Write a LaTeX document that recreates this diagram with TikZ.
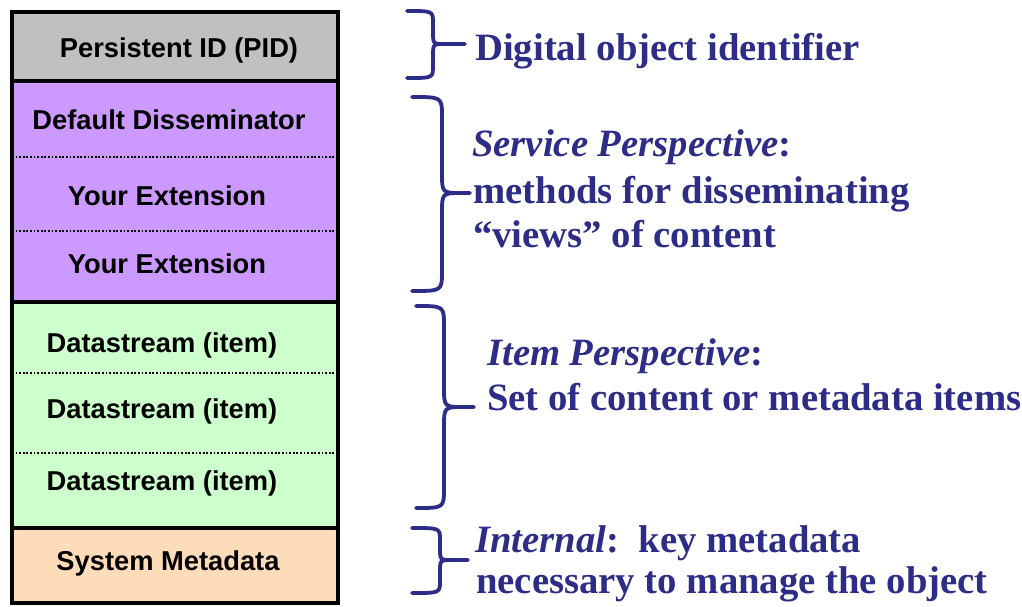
\documentclass[tikz,border=0pt]{standalone}
\usepackage{fontspec}
\setmainfont{Liberation Serif}
\newfontfamily\arialfont{Liberation Sans}
\definecolor{pidgray}{HTML}{C0C0C0}
\definecolor{svcpurple}{HTML}{CC99FF}
\definecolor{itemgreen}{HTML}{CCFFCC}
\definecolor{syspeach}{HTML}{FFDCB9}
\definecolor{navytext}{RGB}{45,45,135}
\tikzset{
  celltext/.style={anchor=base, inner sep=0pt, font=\arialfont\bfseries\fontsize{27.3}{30}\selectfont},
  desc/.style={anchor=base west, inner sep=0pt, text=navytext, font=\bfseries\fontsize{38.7}{44}\selectfont},
  bracestyle/.style={draw=navytext, line width=3.8pt, line cap=round, line join=round},
  solidsep/.style={line width=4pt},
  dotsep/.style={line width=2.6pt, dash pattern=on 1.8pt off 1.8pt},
}
% x0, xv, xt, ytop, ymid, ybot, r
\newcommand{\rightbrace}[7]{%
  \draw[bracestyle] (#1,#4) .. controls (#2,#4) and (#2,#4) .. (#2,#4+#7) -- (#2,#5-#7)
     .. controls (#2,#5) and (#2,#5) .. (#2+#7,#5) -- (#3,#5);
  \draw[bracestyle] (#2+#7,#5) .. controls (#2,#5) and (#2,#5) .. (#2,#5+#7) -- (#2,#6-#7)
     .. controls (#2,#6) and (#2,#6) .. (#1,#6);
}
\begin{document}
\begin{tikzpicture}[x=1pt,y=-1pt]
\useasboundingbox (0,0) rectangle (1022,607);
% cell fills
\fill[pidgray] (12,12) rectangle (338,81);
\fill[svcpurple] (12,81) rectangle (338,302);
\fill[itemgreen] (12,302) rectangle (338,528);
\fill[syspeach] (12,528) rectangle (338,603);
% separators
\draw[solidsep] (12,81) -- (338,81);
\draw[solidsep] (12,302) -- (338,302);
\draw[solidsep] (12,528) -- (338,528);
\draw[dotsep] (12,157) -- (338,157);
\draw[dotsep] (12,231) -- (338,231);
\draw[dotsep] (12,373) -- (338,373);
\draw[dotsep] (12,453) -- (338,453);
\draw[line width=4.5pt] (12,12) rectangle (338,603);
% cell texts
\node[celltext] (pid) at (179,58) {Persistent ID (PID)};
\node[celltext] (dd) at (169,130) {Default Disseminator};
\node[celltext] (ext1) at (167,205) {Your Extension};
\node[celltext] (ext2) at (167,273) {Your Extension};
\node[celltext] (ds1) at (162,352) {Datastream (item)};
\node[celltext] (ds2) at (162,418) {Datastream (item)};
\node[celltext] (ds3) at (162,490) {Datastream (item)};
\node[celltext] (sys) at (168,570) {System Metadata};
% braces
\rightbrace{407}{433}{465}{11}{44}{78}{12}
\rightbrace{412}{442}{470}{97}{193}{291}{20}
\rightbrace{416}{444}{474}{306}{407}{508}{20}
\rightbrace{412}{440}{468}{528}{560}{593}{12}
% descriptions
\node[desc] (d1) at (475,61) {Digital object identifier};
\node[desc] (s1) at (472,157) {\itshape Service Perspective\upshape:};
\node[desc] (s2) at (473,203) {methods for disseminating};
\node[desc] (s3) at (473,247) {“views” of content};
\node[desc] (i1) at (487,365) {\itshape Item Perspective\upshape:};
\node[desc] (i2) at (487,410) {Set of content or metadata items};
\node[desc] (n1) at (475,552) {\itshape Internal\upshape:\ \ key metadata};
\node[desc] (n2) at (476,593) {necessary to manage the object};
\end{tikzpicture}
\end{document}
